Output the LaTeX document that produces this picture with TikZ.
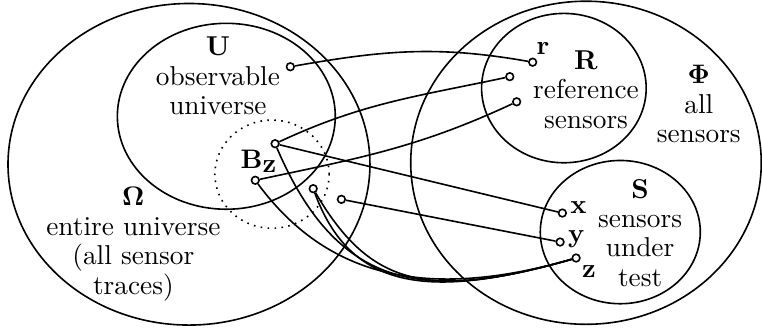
\documentclass[tikz,border=0pt]{standalone}
\usepackage{amsmath,amssymb}
\usetikzlibrary{arrows.meta, positioning, calc}

\begin{document}
\begin{tikzpicture}[semithick,
    port/.style={circle, draw, fill=white, inner sep=0pt, minimum size=0.1cm},
    setlbl/.style={align=center, inner sep=0pt, font=\fontsize{10.2}{11}\selectfont}]
  \useasboundingbox (0,0) rectangle (10,4.396);
  % the sets
  \draw (2.48,2.24) ellipse (2.375 and 2.11);
  \draw (2.97,2.87) ellipse (1.43 and 1.22);
  \draw[dotted] (3.57,2.11) ellipse (0.75 and 0.71);
  \draw (7.69,2.26) ellipse (2.30 and 2.12);
  \draw (7.40,3.24) ellipse (1.08 and 0.98);
  \draw (8.14,1.35) ellipse (1.05 and 0.94);
  % set labels
  \node[setlbl] (ulbl) at (2.86,3.40) {\textbf{U}\\observable\\universe};
  \node[setlbl] (omegalbl) at (1.75,1.19) {$\mathbf{\Omega}$\\entire universe\\(all sensor\\traces)};
  \node[setlbl] (bzlbl) at (3.40,2.28) {$\mathbf{B}_{\textstyle\mathbf{z}}$};
  \node[setlbl] (rlbl) at (7.69,3.22) {\textbf{R}\\reference\\sensors};
  \node[setlbl] (philbl) at (9.17,3.03) {$\mathbf{\Phi}$\\all\\sensors};
  \node[setlbl] (slbl) at (8.40,1.34) {\textbf{S}\\sensors\\under\\test};
  % traces and sensors
  \node[port] (u) at (3.81,3.52) {};
  \node[port] (b1) at (3.61,2.51) {};
  \node[port] (b2) at (3.35,2.03) {};
  \node[port] (c3) at (4.11,1.92) {};
  \node[port] (c4) at (4.48,1.78) {};
  \node[port, label={[inner sep=1pt]85:$\mathbf{r}$}] (r) at (6.99,3.58) {};
  \node[port] (r2) at (6.69,3.39) {};
  \node[port] (r3) at (6.78,3.06) {};
  \node[port, label={[inner sep=1pt, yshift=2pt]right:$\mathbf{x}$}] (x) at (7.38,1.60) {};
  \node[port, label={[inner sep=1pt, yshift=1pt]right:$\mathbf{y}$}] (y) at (7.35,1.22) {};
  \node[port, label={[inner sep=1pt]-56:$\mathbf{z}$}] (z) at (7.56,1.01) {};
  % links
  \draw (u) to[out=10, in=170] (r);
  \draw (b1) to[out=25, in=192] (r2);
  \draw (b2) to[out=12, in=205] (r3);
  \draw (b1) -- (x);
  \draw (c4) -- (y);
  \draw (b1) .. controls (4.45,0.55) and (5.6,0.45) .. (z);
  \draw (b2) .. controls (4.3,0.75) and (5.6,0.45) .. (z);
  \draw (c3) .. controls (4.6,0.6) and (5.6,0.45) .. (z);
  \draw (c3) .. controls (4.85,0.65) and (5.6,0.45) .. (z);
\end{tikzpicture}
\end{document}
